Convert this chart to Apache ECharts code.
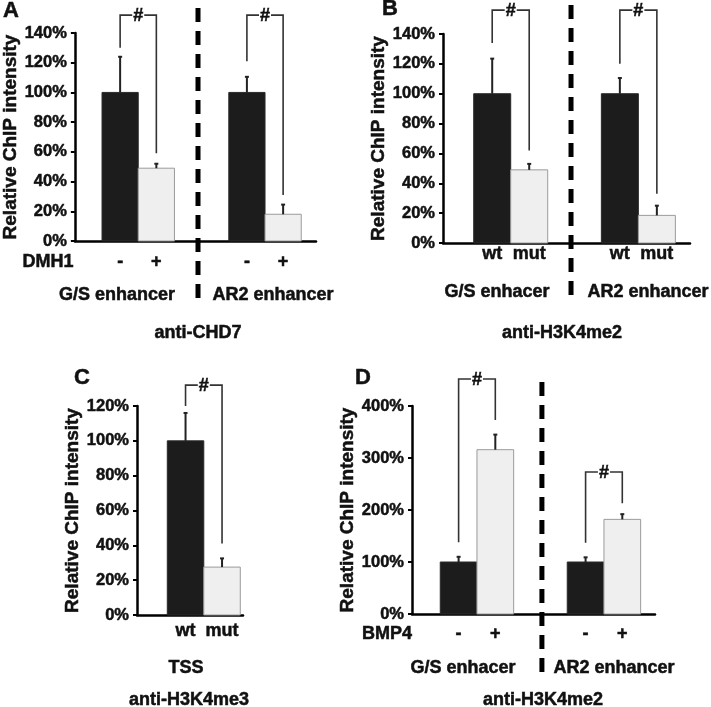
<!DOCTYPE html>
<html><head><meta charset="utf-8">
<script src="https://cdn.jsdelivr.net/npm/echarts@6.0.0/dist/echarts.min.js"></script>
<style>html,body{margin:0;padding:0;background:#fff}#c{width:711px;height:707px}</style>
</head><body><div id="c"></div>
<script>
// ---------------- DATA ----------------
const yAxisTitle = 'Relative ChIP intensity';
const sigMark = '#';

// Panel A (anti-CHD7)
const aBarLabels = ['-', '+', '-', '+'];
const aGroups = ['G/S enhancer', 'AR2 enhancer'];
const aValues = [100, 49, 100, 18];
const aErrors = [24, 3, 10.5, 6.5];
const aBrackets = [[0, 1, 130, 59, 152], [2, 3, 121, 31, 152]]; // [leftBar, rightBar, leftEnd, rightEnd, top]
const aTreatment = 'DMH1';
const aAntibody = 'anti-CHD7';
const aYMax = 140, aYStep = 20;

// Panel B (anti-H3K4me2)
const bBarLabels = ['wt', 'mut', 'wt', 'mut'];
const bGroups = ['G/S enhacer', 'AR2 enhancer'];
const bValues = [100, 49, 100, 18.5];
const bErrors = [23.5, 4, 10.5, 6.5];
const bBrackets = [[0, 1, 134, 62, 156], [2, 3, 120, 33, 156]];
const bTreatment = '';
const bAntibody = 'anti-H3K4me2';
const bYMax = 140, bYStep = 20;

// Panel C (anti-H3K4me3)
const cBarLabels = ['wt', 'mut'];
const cGroups = ['TSS'];
const cValues = [100, 27.5];
const cErrors = [16, 5];
const cBrackets = [[0, 1, 120, 41, 132]];
const cTreatment = '';
const cAntibody = 'anti-H3K4me3';
const cYMax = 120, cYStep = 20;

// Panel D (anti-H3K4me2, BMP4)
const dBarLabels = ['-', '+', '-', '+'];
const dGroups = ['G/S enhacer', 'AR2 enhancer'];
const dValues = [100, 316, 100, 182];
const dErrors = [10, 29, 9, 10];
const dBrackets = [[0, 1, 138, 373, 452], [2, 3, 137, 213, 273]];
const dTreatment = 'BMP4';
const dAntibody = 'anti-H3K4me2';
const dYMax = 400, dYStep = 100;

// ---------------- LAYOUT ----------------
const FONT = '"Liberation Sans", Arial, Helvetica, sans-serif';
const INK = '#111';
const panels = [
  {letter: 'A', labels: aBarLabels, groups: aGroups, values: aValues, errors: aErrors, brackets: aBrackets,
   treatment: aTreatment, antibody: aAntibody, yMax: aYMax, yStep: aYStep,
   grid: {left: 73, top: 33, width: 243, height: 208}, unit: 36.5, barX: [1.25, 2.25, 4.75, 5.75],
   sep: {x: 3.4, y: [8, 303]}, nameGap: 47, labelOffset: 21,
   letterPos: [3, 11], treatPos: [48, 262], groupPos: [[117, 295], [273, 295]], abPos: [198, 333]},
  {letter: 'B', labels: bBarLabels, groups: bGroups, values: bValues, errors: bErrors, brackets: bBrackets,
   treatment: bTreatment, antibody: bAntibody, yMax: bYMax, yStep: bYStep,
   grid: {left: 443, top: 34, width: 247, height: 209}, unit: 37, barX: [1.33, 2.33, 4.78, 5.78],
   sep: {x: 3.46, y: [5, 303]}, nameGap: 45, labelOffset: 11,
   letterPos: [382, 9], treatPos: null, groupPos: [[497, 292], [648, 292]], abPos: [562, 333]},
  {letter: 'C', labels: cBarLabels, groups: cGroups, values: cValues, errors: cErrors, brackets: cBrackets,
   treatment: cTreatment, antibody: cAntibody, yMax: cYMax, yStep: cYStep,
   grid: {left: 137, top: 406, width: 106, height: 209}, unit: 36.5, barX: [1.33, 2.33],
   sep: null, nameGap: 44, labelOffset: 16,
   letterPos: [74, 378], treatPos: null, groupPos: [[186, 668]], abPos: [189, 700]},
  {letter: 'D', labels: dBarLabels, groups: dGroups, values: dValues, errors: dErrors, brackets: dBrackets,
   treatment: dTreatment, antibody: dAntibody, yMax: dYMax, yStep: dYStep,
   grid: {left: 412, top: 406, width: 243, height: 208}, unit: 36.7, barX: [1.27, 2.27, 4.73, 5.73],
   sep: {x: 3.54, y: [382, 677]}, nameGap: 53, labelOffset: 20,
   letterPos: [355, 378], treatPos: [387, 634], groupPos: [[463, 668], [614, 668]], abPos: [543, 700]}
];

// ---------------- RENDERERS ----------------
const heavyEl = {stroke: INK, lineWidth: 0.5};                     // for zrender text elements
const heavyOpt = {textBorderColor: INK, textBorderWidth: 0.5};     // for option text styles
function makeBarRender(labels, offset) {
  return function (params, api) {
    const x = api.value(0), v = api.value(1);
    const tl = api.coord([x - 0.5, v]), br = api.coord([x + 0.5, 0]);
    const dark = params.dataIndex % 2 === 0;
    return {type: 'group', children: [
      {type: 'rect', shape: {x: tl[0], y: tl[1], width: br[0] - tl[0], height: br[1] - tl[1]},
       style: {fill: dark ? '#1c1c1c' : '#efefef', stroke: dark ? '#2a2a2a' : '#9b9b9b', lineWidth: 1}},
      {type: 'text', x: (tl[0] + br[0]) / 2, y: br[1] + offset,
       style: Object.assign({text: labels[params.dataIndex], font: 'bold 18px ' + FONT, fill: INK, align: 'center', verticalAlign: 'middle'}, heavyEl)}
    ]};
  };
}
function errRender(params, api) {
  const x = api.value(0), v = api.value(1), e = api.value(2);
  const b = api.coord([x, v]), t = api.coord([x, v + e]);
  return {type: 'group', children: [
    {type: 'line', shape: {x1: b[0], y1: b[1], x2: t[0], y2: t[1]}, style: {stroke: '#222', lineWidth: 2}},
    {type: 'line', shape: {x1: t[0] - 2, y1: t[1], x2: t[0] + 2, y2: t[1]}, style: {stroke: '#222', lineWidth: 2}}
  ]};
}
function bracketRender(params, api) {
  const x1 = api.value(0), x2 = api.value(1), y1 = api.value(2), y2 = api.value(3), top = api.value(4);
  const a = api.coord([x1, y1]), b = api.coord([x1, top]), c = api.coord([x2, top]), d = api.coord([x2, y2]);
  return {type: 'group', children: [
    {type: 'polyline', shape: {points: [a, b, c, d]}, style: {stroke: '#333', lineWidth: 1.6, fill: null}},
    {type: 'text', x: (b[0] + c[0]) / 2, y: b[1] + 1,
     style: Object.assign({text: sigMark, font: 'bold 18px ' + FONT, fill: INK, align: 'center', verticalAlign: 'middle',
             backgroundColor: '#fff', padding: [0, 1]}, heavyEl)}
  ]};
}
function makeSepRender(yPix) {
  return function (params, api) {
    const x = api.coord([api.value(0), 0])[0];
    return {type: 'line', shape: {x1: x, y1: yPix[0], x2: x, y2: yPix[1]},
            style: {stroke: '#000', lineWidth: 5, lineDash: [14, 9]}};
  };
}

// ---------------- OPTION ----------------
const grids = [], xAxes = [], yAxes = [], series = [], graphics = [];
const txt = (text, x, y, size, align) => ({type: 'text', x: x, y: y, silent: true,
  style: Object.assign({text: text, font: 'bold ' + size + 'px ' + FONT, fill: INK, align: align || 'center', verticalAlign: 'middle'}, heavyEl)});

panels.forEach((p, i) => {
  grids.push(Object.assign({containLabel: false}, p.grid));
  xAxes.push({gridIndex: i, type: 'value', min: 0, max: p.grid.width / p.unit,
    axisLine: {show: true, onZero: false, lineStyle: {color: '#000', width: 2.5}},
    axisTick: {show: false}, axisLabel: {show: false}, splitLine: {show: false}});
  yAxes.push({gridIndex: i, type: 'value', min: 0, max: p.yMax, interval: p.yStep,
    name: yAxisTitle, nameLocation: 'middle', nameGap: p.nameGap,
    nameTextStyle: Object.assign({fontSize: 19, fontWeight: 'bold', color: INK, fontFamily: FONT}, heavyOpt),
    axisLine: {show: true, lineStyle: {color: '#000', width: 2.5}},
    axisTick: {show: true, length: 4, lineStyle: {color: '#000', width: 2}},
    axisLabel: Object.assign({formatter: '{value}%', fontSize: 16.5, fontWeight: 'bold', color: INK, fontFamily: FONT, margin: 8}, heavyOpt),
    splitLine: {show: false}});
  series.push({type: 'custom', xAxisIndex: i, yAxisIndex: i, clip: false, z: 3,
    renderItem: makeBarRender(p.labels, p.labelOffset),
    data: p.values.map((v, k) => [p.barX[k], v])});
  series.push({type: 'custom', xAxisIndex: i, yAxisIndex: i, clip: false, z: 4,
    renderItem: errRender,
    data: p.values.map((v, k) => [p.barX[k], v, p.errors[k]])});
  series.push({type: 'custom', xAxisIndex: i, yAxisIndex: i, clip: false, z: 5,
    renderItem: bracketRender,
    data: p.brackets.map(b => [p.barX[b[0]], p.barX[b[1]], b[2], b[3], b[4]])});
  if (p.sep) {
    series.push({type: 'custom', xAxisIndex: i, yAxisIndex: i, clip: false, z: 5,
      renderItem: makeSepRender(p.sep.y), data: [[p.sep.x, 0]]});
  }
  graphics.push(txt(p.letter, p.letterPos[0], p.letterPos[1], 22, 'left'));
  if (p.treatment && p.treatPos) graphics.push(txt(p.treatment, p.treatPos[0], p.treatPos[1], 18));
  p.groups.forEach((g, k) => graphics.push(txt(g, p.groupPos[k][0], p.groupPos[k][1], 18)));
  graphics.push(txt(p.antibody, p.abPos[0], p.abPos[1], 18));
});

const chart = echarts.init(document.getElementById('c'), null, {renderer: 'canvas'});
chart.setOption({
  animation: false,
  backgroundColor: '#fff',
  grid: grids, xAxis: xAxes, yAxis: yAxes, series: series,
  graphic: {elements: graphics}
});
</script></body></html>
